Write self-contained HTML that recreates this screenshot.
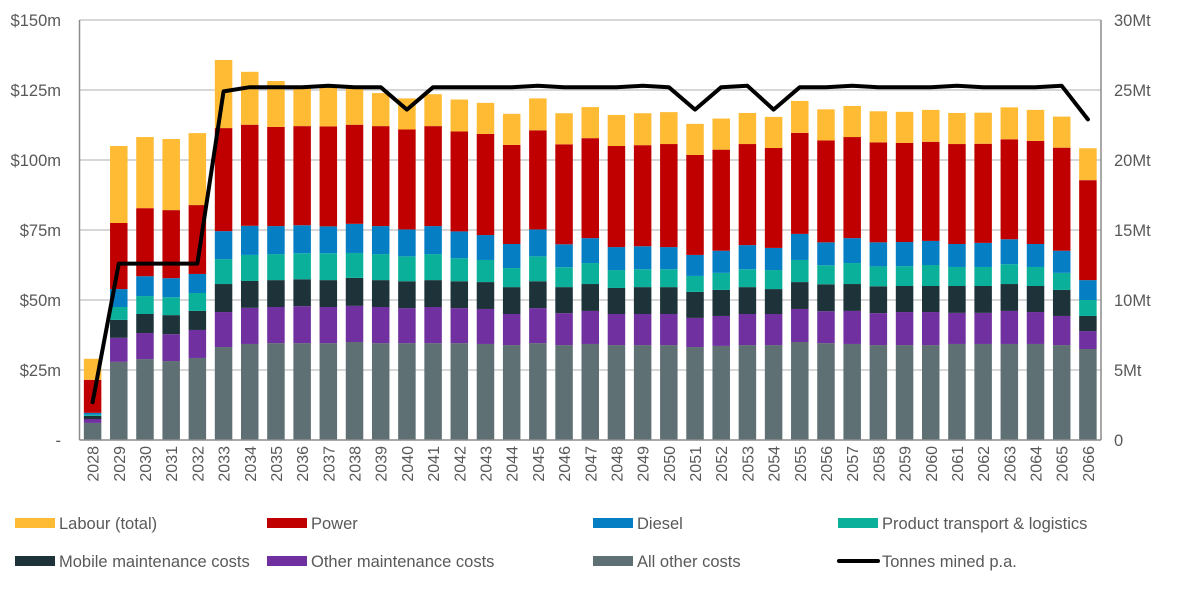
<!DOCTYPE html>
<html><head><meta charset="utf-8"><style>
body{margin:0;background:#fff;font-family:"Liberation Sans",sans-serif;}
svg text{fill:#595959;font-family:"Liberation Sans",sans-serif;}
</style></head><body>
<svg id="chart" width="1198" height="584" xmlns="http://www.w3.org/2000/svg"></svg>
<script>
const years=[2028,2029,2030,2031,2032,2033,2034,2035,2036,2037,2038,2039,2040,2041,2042,2043,2044,2045,2046,2047,2048,2049,2050,2051,2052,2053,2054,2055,2056,2057,2058,2059,2060,2061,2062,2063,2064,2065,2066];
const allOther=[6.1,27.9,28.9,28.2,29.3,33.2,34.3,34.6,34.6,34.6,35,34.6,34.6,34.6,34.6,34.3,33.9,34.6,33.9,34.3,33.9,33.9,33.9,33.2,33.6,33.9,33.9,35,34.6,34.3,33.9,33.9,33.9,34.3,34.3,34.3,34.3,33.9,32.5];
const otherMaint=[1.4,8.6,9.3,9.6,10,12.5,12.9,12.9,13.2,12.9,12.9,12.9,12.5,12.9,12.5,12.5,11.1,12.5,11.4,11.8,11.1,11.1,11.1,10.4,10.7,11.1,11.1,11.8,11.4,11.8,11.4,11.8,11.8,11.1,11.1,11.8,11.4,10.4,6.4];
const mobileMaint=[1.1,6.4,6.8,6.8,6.8,10,9.6,9.6,9.6,9.6,10,9.6,9.6,9.6,9.6,9.6,9.6,9.6,9.3,9.6,9.3,9.6,9.6,9.3,9.3,9.6,8.9,9.6,9.6,9.6,9.6,9.3,9.3,9.6,9.6,9.6,9.3,9.3,5.4];
const transport=[0.4,4.6,6.4,6.4,6.4,8.9,9.3,9.3,9.3,9.6,8.9,9.3,8.9,9.3,8.2,7.9,6.8,8.9,7.1,7.5,6.4,6.4,6.4,5.7,6.1,6.4,6.8,7.9,6.8,7.5,7.1,7.1,7.5,6.8,6.8,7.1,6.8,6.1,5.7];
const diesel=[0.7,6.4,7.1,6.8,6.8,10,10.4,10,10,9.6,10.4,10,9.6,10,9.6,8.9,8.6,9.6,8.2,8.9,8.2,8.2,7.9,7.5,7.9,8.6,7.9,9.3,8.2,8.9,8.6,8.6,8.6,8.2,8.6,8.9,8.2,7.9,7.1];
const power=[11.8,23.6,24.3,24.3,24.6,36.8,36.1,35.4,35.4,35.7,35.4,35.7,35.7,35.7,35.7,36.1,35.4,35.4,35.7,35.7,36.1,36.1,36.8,35.7,36.1,36.1,35.7,36.1,36.4,36.1,35.7,35.4,35.4,35.7,35.4,35.7,36.8,36.8,35.7];
const labour=[7.5,27.5,25.4,25.4,25.7,24.3,18.9,16.4,14.3,13.9,13.2,11.8,11.1,11.4,11.4,11.1,11.1,11.4,11.1,11.1,11.1,11.4,11.4,11.1,11.1,11.1,11.1,11.4,11.1,11.1,11.1,11.1,11.4,11.1,11.1,11.4,11.1,11.1,11.4];
const tonnes=[2.7,12.6,12.6,12.6,12.6,24.9,25.2,25.2,25.2,25.3,25.2,25.2,23.6,25.2,25.2,25.2,25.2,25.3,25.2,25.2,25.2,25.3,25.2,23.6,25.2,25.3,23.6,25.2,25.2,25.3,25.2,25.2,25.2,25.3,25.2,25.2,25.2,25.3,22.9];
const leftTicks=["-","$25m","$50m","$75m","$100m","$125m","$150m"];
const rightTicks=["0","5Mt","10Mt","15Mt","20Mt","25Mt","30Mt"];

const NS="http://www.w3.org/2000/svg";
const svg=document.getElementById('chart');
const L=79.5,R=1101,T=20,B=440,band=(R-L)/years.length,bw=17.5;
const yL=v=>B-(v/150)*(B-T);
const yR=v=>B-(v/30)*(B-T);
const xC=i=>L+band*(i+0.5);
function mk(tag,attrs,parent){const e=document.createElementNS(NS,tag);for(const k in attrs)e.setAttribute(k,attrs[k]);(parent||svg).appendChild(e);return e;}

leftTicks.forEach((t,i)=>{
  const y=yL(i*25);
  if(i>0){const g=mk('line',{x1:L,x2:R,y1:y,y2:y,stroke:'#bfbfbf','stroke-width':1.3});
  
  }
  const tx=mk('text',{x:61,y:y+6,'text-anchor':'end','font-size':16.5});tx.textContent=t;
  
  
});
rightTicks.forEach((t,i)=>{
  const y=yR(i*5);
  const tx=mk('text',{x:1114,y:y+6,'font-size':16.5});tx.textContent=t;
  
  
});

const series=[[allOther,'#5f7074','all-other-costs'],[otherMaint,'#7030a0','other-maintenance'],[mobileMaint,'#1d3339','mobile-maintenance'],[transport,'#0bb09a','product-transport'],[diesel,'#057ec4','diesel'],[power,'#c00000','power'],[labour,'#ffbb33','labour']];
years.forEach((yr,i)=>{
  let cum=0;
  series.forEach(([arr,col,nm])=>{
    const v=arr[i];const y0=yL(cum),y1=yL(cum+v);
    const r=mk('rect',{x:xC(i)-bw/2,y:y1,width:bw,height:y0-y1,fill:col});
    
    
    cum+=v;
  });
  const tx=mk('text',{x:0,y:0,'font-size':16,'text-anchor':'end',transform:`translate(${xC(i)+6},446) rotate(-90)`});tx.textContent=yr;
  
  
});
const ax1=mk('line',{x1:L,x2:L,y1:T,y2:B,stroke:'#8c8c8c','stroke-width':1.5});


const ax2=mk('line',{x1:R,x2:R,y1:T,y2:B,stroke:'#8c8c8c','stroke-width':1.5});


const ax3=mk('line',{x1:L,x2:R,y1:B,y2:B,stroke:'#8c8c8c','stroke-width':1.5});


const pts=tonnes.map((v,i)=>xC(i)+','+yR(v)).join(' ');
const pl=mk('polyline',{points:pts,fill:'none',stroke:'#000','stroke-width':4,'stroke-linejoin':'round','stroke-linecap':'round'});



const leg=[['Labour (total)','#ffbb33',15,523],['Power','#c00000',267,523],['Diesel','#057ec4',593,523],['Product transport & logistics','#0bb09a',838,523],['Mobile maintenance costs','#1d3339',15,561],['Other maintenance costs','#7030a0',267,561],['All other costs','#5f7074',593,561],['Tonnes mined p.a.',null,838,561]];
leg.forEach(([t,c,x,y])=>{
  const g=mk('g',{});
  
  
  if(c) mk('rect',{x:x,y:y-5,width:40,height:10,fill:c},g);
  else mk('line',{x1:x+1,x2:x+40,y1:y,y2:y,stroke:'#000','stroke-width':4,'stroke-linecap':'round'},g);
  const tx=mk('text',{x:x+44,y:y+6,'font-size':16.5},g);tx.textContent=t;
});
</script>
</body></html>
